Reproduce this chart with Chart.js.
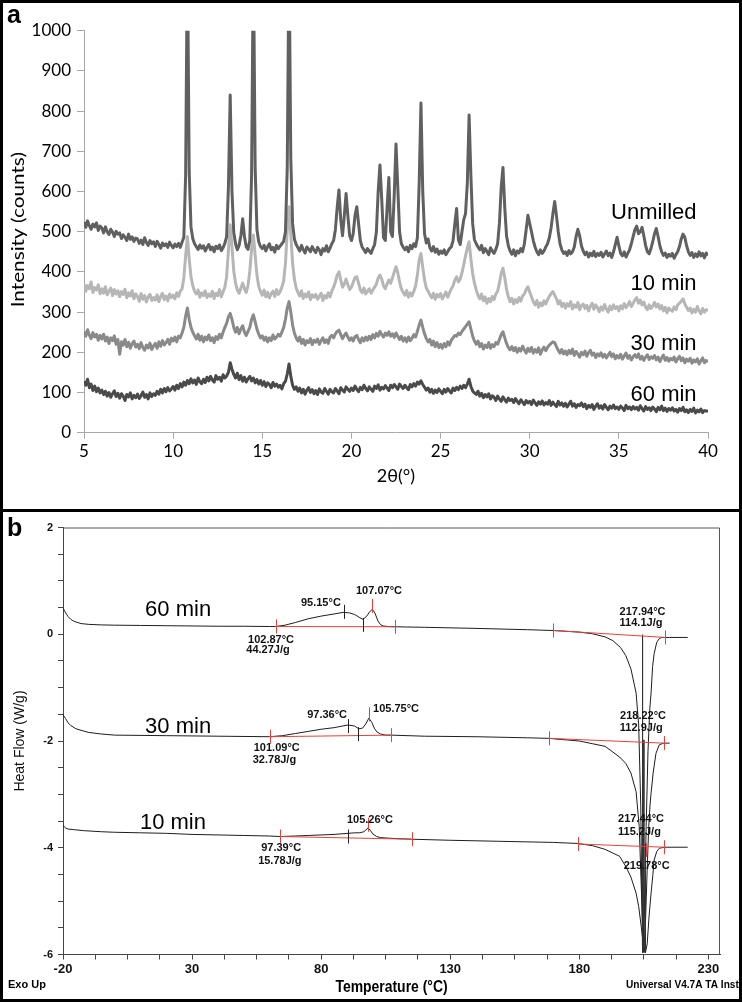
<!DOCTYPE html>
<html><head><meta charset="utf-8">
<script src="https://cdn.jsdelivr.net/npm/chart.js@4.4.1/dist/chart.umd.min.js"></script>
<style>
html,body{margin:0;padding:0;background:#fff;}
#wrap{position:relative;width:742px;height:1002px;overflow:hidden;background:#fff;}
canvas{position:absolute;left:0;}
#ca{top:0;}
#cb{top:510px;}
.frame{position:absolute;border:3px solid #000;box-sizing:border-box;pointer-events:none;}
</style></head><body>
<div id="wrap">
<canvas id="ca" width="742" height="510"></canvas>
<canvas id="cb" width="742" height="492"></canvas>
<div class="frame" style="left:0;top:0;width:742px;height:512px"></div>
<div class="frame" style="left:0;top:509px;width:742px;height:493px"></div>
</div>
<script>
// ---------------- Panel a : XRD (2θ from 5° in 0.1° steps) ----------------
const xrdStart = 5;
const xrdStep = 0.1;
const xrdAngleTicks = [5,10,15,20,25,30,35,40];
const xrdIntensityTicks = [0,100,200,300,400,500,600,700,800,900,1000];
const xrdSeriesNames = ['Unmilled','10 min','30 min','60 min'];
const xrdNameAnchor = [[39.36,546],[39.36,370],[39.36,220],[39.36,94]];

const unmilled = [
524,511,527,515,506,519,512,522,503,514,
509,497,512,500,493,506,499,488,501,494,
497,483,492,486,478,494,481,487,476,484,
482,471,479,468,485,473,466,478,470,475,
463,476,468,459,472,465,470,461,474,466,
460,469,463,471,461,474,486,640,1200,650,
512,483,470,463,456,467,459,465,452,461,
468,455,462,450,464,458,467,453,460,471,
488,610,840,600,498,470,455,466,490,532,
488,462,456,478,640,1200,660,505,475,463,
458,466,452,463,470,455,461,449,466,458,
464,470,476,500,660,1200,680,520,482,468,
460,452,466,455,447,462,457,450,463,454,
448,461,455,443,458,452,465,450,459,470,
478,505,560,604,530,490,540,595,540,490,
478,495,540,562,520,478,462,455,448,458,
452,446,458,468,500,600,666,580,485,478,
560,635,500,488,590,718,610,500,470,462,
455,462,450,466,458,470,463,485,620,820,
600,495,472,482,460,452,463,449,457,444,
452,446,455,443,450,458,462,478,520,558,
480,468,500,530,545,620,790,640,520,480,
470,462,455,466,448,458,451,443,460,452,
446,456,470,520,610,660,560,490,465,452,
444,455,440,452,447,458,450,470,505,541,
520,500,478,462,450,443,455,446,452,462,
470,485,510,545,575,540,500,470,455,446,
450,441,453,445,450,462,488,506,490,465,
452,443,449,437,447,440,451,438,446,441,
449,437,445,452,440,447,436,450,468,486,
465,446,440,450,437,446,455,470,488,505,
514,495,500,511,490,466,450,445,458,475,
495,508,488,465,450,441,447,436,444,439,
446,434,443,450,463,482,494,486,465,450,
441,448,436,445,438,450,440,446,435,447,
441];

const milled10 = [
370,352,366,358,375,349,361,355,368,346,
358,347,363,343,352,360,341,356,345,353,
338,351,344,357,336,348,340,353,333,345,
339,327,346,332,341,325,338,344,329,336,
330,343,326,339,347,331,340,328,345,336,
342,333,348,339,352,358,385,440,488,432,
388,366,352,345,355,337,348,341,353,336,
345,339,352,334,347,341,356,338,350,362,
388,452,517,462,402,372,355,347,360,372,
358,349,366,402,456,492,442,392,364,351,
342,355,338,349,335,346,352,339,356,344,
351,362,378,422,502,562,492,422,382,360,
349,340,353,334,345,338,350,331,343,337,
344,332,339,347,329,341,335,348,338,352,
362,375,392,400,380,362,370,382,368,356,
362,374,386,388,372,355,348,360,345,352,
358,347,355,362,370,385,392,382,365,358,
370,380,372,385,400,413,398,375,358,349,
342,354,337,348,340,352,365,392,430,446,
412,380,360,352,343,336,347,332,344,338,
346,333,341,350,337,348,358,365,380,388,
375,382,398,418,440,460,475,432,396,372,
355,342,333,345,328,338,322,334,326,339,
331,345,352,372,396,409,386,357,338,326,
334,320,331,324,336,327,340,345,356,363,
350,338,326,318,329,312,323,316,328,320,
331,339,346,351,342,333,320,328,314,322,
310,321,315,326,308,318,312,324,306,316,
320,309,317,303,314,322,307,318,311,301,
313,305,319,308,300,315,306,318,309,314,
303,316,308,321,311,318,326,314,322,330,
336,322,330,318,325,312,306,318,309,315,
324,313,320,308,316,303,312,298,310,305,
302,313,306,318,322,327,333,320,312,304,
310,298,307,300,314,303,296,309,300,306,
304];

const milled30 = [
252,240,256,243,234,249,238,245,230,242,
233,245,228,238,222,236,229,241,220,232,
195,226,218,232,214,225,210,221,228,213,
220,209,224,212,205,218,211,223,207,216,
222,210,226,215,229,218,224,232,220,235,
228,238,226,240,236,248,262,290,310,282,
262,250,241,233,245,230,240,226,238,231,
243,229,236,224,239,232,245,236,250,262,
272,288,297,282,262,250,262,246,258,266,
250,242,252,262,282,293,276,258,245,236,
241,230,238,226,236,229,243,233,238,245,
240,250,262,282,310,326,300,268,248,236,
228,238,222,232,218,229,224,234,219,230,
225,233,220,229,236,224,231,222,238,242,
236,246,252,255,244,234,242,248,238,230,
236,228,239,242,232,224,236,228,238,230,
240,232,244,236,247,240,252,244,238,248,
242,251,240,246,237,248,240,232,240,228,
236,226,238,229,235,244,238,252,268,280,
262,246,234,226,232,218,228,214,224,212,
220,210,222,214,226,218,230,236,242,240,
248,244,252,258,264,270,276,258,240,228,
220,228,214,222,208,218,212,224,210,219,
214,224,220,232,244,251,236,222,212,206,
214,204,212,200,210,203,215,206,198,210,
202,212,198,207,200,211,195,206,213,204,
212,218,222,226,224,214,205,198,207,196,
203,194,205,197,208,192,202,196,188,200,
194,203,190,199,205,193,198,187,196,191,
199,188,195,186,193,200,189,196,184,192,
186,195,183,191,198,185,192,181,189,194,
187,196,183,190,180,188,194,182,189,185,
192,181,188,177,186,193,180,187,178,185,
181,188,176,184,190,179,186,174,183,178,
185,173,181,176,184,171,179,186,174,180,
176];

const milled60 = [
128,118,133,112,121,105,116,102,111,99,
106,95,103,91,100,88,97,104,90,98,
86,97,91,80,95,89,99,84,93,87,
96,85,92,101,88,95,84,99,90,97,
93,103,96,108,99,110,102,112,104,109,
115,106,118,110,122,114,126,118,130,122,
134,124,131,120,136,127,122,133,125,138,
129,140,131,126,142,133,138,128,144,136,
141,150,174,158,145,136,148,132,142,128,
138,126,134,140,129,136,124,132,121,130,
118,127,115,124,120,112,125,116,121,113,
118,109,122,128,146,171,140,118,108,114,
103,111,99,108,96,106,112,100,107,97,
105,95,109,101,98,110,103,96,108,102,
99,110,104,97,112,106,101,114,108,103,
111,105,116,108,102,113,107,118,110,104,
114,108,103,116,110,119,106,113,109,117,
111,105,118,112,120,114,108,121,115,110,
118,112,107,120,114,122,116,126,121,129,
120,113,106,111,101,108,98,106,100,109,
103,97,108,101,110,104,99,111,105,113,
107,116,110,118,112,121,133,115,104,99,
95,103,91,98,87,95,89,97,84,92,
88,80,91,84,78,89,82,76,86,80,
83,75,85,78,72,82,76,70,80,74,
78,70,81,74,68,77,71,79,69,75,
71,80,68,76,70,65,78,69,74,66,
73,64,71,78,66,72,63,70,67,74,
65,71,60,68,63,70,58,66,72,61,
67,59,70,63,57,66,61,69,60,64,
58,66,62,55,68,60,64,57,65,59,
63,56,67,60,54,65,58,62,55,64,
59,52,63,57,66,55,61,53,60,56,
62,54,58,51,60,55,63,52,57,50,
58,53,61,49,56,52,59,50,55,54,
53];

// ---------------- Panel b : DSC ----------------
const dscTempTicks = [-20,-7.5,5,17.5,30,42.5,55,67.5,80,92.5,105,117.5,130,142.5,155,167.5,180,192.5,205,217.5,230];
const dscTempLabels = [-20,30,80,130,180,230];
const dscHFTicks = [2,1.5,1,0.5,0,-0.5,-1,-1.5,-2,-2.5,-3,-3.5,-4,-4.5,-5,-5.5,-6];
const dscHFLabels = [2,0,-2,-4,-6];

const dsc60T = [-20,-19.5,-19,-18,-17,-16,-15,-13,-10,-5,0,10,20,30,40,50,60,62.4,66,70,75,80,85,88.5,91,93,95,96.2,97.5,98.8,99.8,100.8,102,103,104,106,108.5,120,140,160,170,180,185,190,193,196,198,200,202,203,203.8,204.5,205.2,205.9,206.6,207.3,207.8,208.4,209,210,211,212,215,222];
const dsc60HF = [0.49,0.45,0.40,0.33,0.28,0.25,0.23,0.20,0.185,0.175,0.17,0.165,0.16,0.155,0.15,0.15,0.145,0.145,0.17,0.22,0.29,0.34,0.38,0.41,0.40,0.37,0.31,0.28,0.33,0.42,0.47,0.40,0.25,0.18,0.155,0.145,0.14,0.13,0.11,0.085,0.07,0.04,0.01,-0.05,-0.12,-0.25,-0.4,-0.65,-1.1,-1.7,-3.2,-5.97,-5.2,-3.6,-2.2,-1.4,-1.1,-0.6,-0.36,-0.15,-0.08,-0.06,-0.06,-0.06];

const dsc30T = [-20,-19,-18,-17,-15,-13,-10,-5,0,20,40,60.1,65,70,75,80,85,90.4,93,94.5,96,97.3,98.5,99.6,100.6,101.6,103,105,107,120,140,160,168.2,175,180,185,190,195.6,198,200,202,203.2,204.2,205,205.7,206.3,206.9,207.4,207.8,208.6,209.7,211,212.7,215];
const dsc30HF = [-1.51,-1.58,-1.66,-1.71,-1.77,-1.80,-1.84,-1.87,-1.89,-1.90,-1.91,-1.92,-1.90,-1.86,-1.82,-1.78,-1.75,-1.70,-1.72,-1.77,-1.76,-1.68,-1.57,-1.65,-1.76,-1.83,-1.87,-1.89,-1.89,-1.91,-1.92,-1.94,-1.95,-1.98,-2.0,-2.05,-2.1,-2.3,-2.42,-2.6,-2.95,-3.6,-5.0,-5.96,-5.3,-4.4,-3.6,-3.2,-2.98,-2.6,-2.23,-2.07,-2.04,-2.04];

const dsc10T = [-20,-19.5,-19,-18,-16,-12,-5,0,10,20,30,40,50,60,64,70,75,80,85,90.4,93,95,96.5,97.3,98.1,99,100,101.5,103,106,110,115,130,150,170,179.4,185,190,195.6,198,200,202,203,204,204.9,205.6,206.3,207,207.8,208.5,209,210,211,213,222];
const dsc10HF = [-3.57,-3.61,-3.63,-3.65,-3.66,-3.68,-3.70,-3.71,-3.72,-3.73,-3.75,-3.76,-3.77,-3.78,-3.79,-3.78,-3.77,-3.76,-3.75,-3.73,-3.72,-3.72,-3.70,-3.67,-3.63,-3.67,-3.74,-3.79,-3.81,-3.82,-3.83,-3.84,-3.86,-3.88,-3.9,-3.92,-3.96,-4.03,-4.16,-4.35,-4.55,-4.85,-5.1,-5.48,-5.85,-5.97,-5.8,-5.3,-4.85,-4.5,-4.23,-4.07,-4.01,-3.99,-3.99];

// integration baselines (red) : [startT, startHF, endT, endHF]
const dscBaseLines = [
  [62.4,0.145,108.5,0.14],[170,0.07,213.3,-0.06],
  [60.1,-1.92,107,-1.89],[168.2,-1.95,212.7,-2.04],
  [64,-3.79,115,-3.84],[179.4,-3.93,213,-3.99]
];
// peak marker verticals : [T, fromHF, toHF]
const dscPeakLines = [[204.5,-0.01,-5.97],[205,-1.98,-5.96],[205.6,-3.93,-5.97]];
const dscRedTicks = [[62.4,0.145],[108.5,0.14],[99.8,0.53],[170,0.07],[213.3,-0.06],
  [60.1,-1.92],[107,-1.89],[98.5,-1.50],[168.2,-1.95],[212.7,-2.04],
  [64,-3.79],[115,-3.84],[98.1,-3.57],[179.4,-3.93],[213,-3.99],[206,-4.04]];
const dscBlackTicks = [[88.9,0.42],[96.1,0.175],[90.4,-1.72],[94.3,-1.87],[90.4,-3.79]];
const dscNotes = [
  ['95.15°C',79.9,0.58],['107.07°C',102.4,0.82],['102.87°C',60.6,-0.11],['44.27J/g',59.4,-0.29],
  ['217.94°C',204.5,0.42],['114.1J/g',203.9,0.22],
  ['97.36°C',82.3,-1.51],['105.75°C',109,-1.40],['101.09°C',62.8,-2.13],['32.78J/g',61.9,-2.35],
  ['218.22°C',204.7,-1.54],['112.9J/g',204,-1.76],
  ['105.26°C',98.9,-3.48],['97.39°C',64.5,-4.0],['15.78J/g',64,-4.24],
  ['217.44°C',203.9,-3.46],['115.2J/g',203.3,-3.70],['219.78°C',206.1,-4.35]
];
const dscSeriesNames = ['60 min','30 min','10 min'];
const dscNameAnchor = [[11.8,0.46],[11.8,-1.73],[9.8,-3.54]];

// ---------------- build ----------------
function xrdPoints(arr){ return arr.map((v,i)=>({x: Math.round((xrdStart + i*xrdStep)*10)/10, y: v})); }
function pairPoints(ts, vs){ return ts.map((t,i)=>({x:t, y:vs[i]})); }

const LS = '"Liberation Sans", Arial, sans-serif';

const annotA = {
  id:'annotA',
  afterDatasetsDraw(chart){
    const {ctx, chartArea:ca, scales:{x,y}} = chart;
    ctx.save();
    ctx.fillStyle = '#000';
    ctx.font = '22px ' + LS;
    ctx.textAlign = 'right'; ctx.textBaseline = 'middle';
    xrdSeriesNames.forEach((n,i)=>ctx.fillText(n, x.getPixelForValue(xrdNameAnchor[i][0]), y.getPixelForValue(xrdNameAnchor[i][1])));
    // y-axis title (wide geometric look)
    ctx.save();
    ctx.translate(19, (ca.top+ca.bottom)/2 - 2);
    ctx.rotate(-Math.PI/2);
    ctx.scale(1.22,1);
    ctx.font = '17px Lato, sans-serif'; ctx.textAlign = 'center';
    ctx.fillText('Intensity (counts)', 0, 0);
    ctx.restore();
    ctx.font = 'bold 25px ' + LS;
    ctx.textAlign = 'left';
    ctx.fillText('a', 7, 16);
    ctx.restore();
  }
};

const xrdColors = ['#606060','#b6b6b6','#8a8a8a','#4a4a4a'];
const xrdSeries = [unmilled, milled10, milled30, milled60];

new Chart(document.getElementById('ca'), {
  type:'line',
  data:{ datasets: xrdSeries.map((s,i)=>({
    label: xrdSeriesNames[i], data: xrdPoints(s), borderColor: xrdColors[i],
    borderWidth: 3, pointRadius: 0, tension: 0, fill: false, order: i,
    borderJoinStyle: 'round'
  }))},
  options:{
    responsive:false, animation:false, parsing:false, normalized:true,
    layout:{padding:{top:30.7, right:34, left:0, bottom:0}},
    plugins:{legend:{display:false}, tooltip:{enabled:false}},
    scales:{
      x:{type:'linear', min:5, max:40,
        afterBuildTicks:s=>{s.ticks = xrdAngleTicks.map(v=>({value:v}));},
        ticks:{color:'#000', font:{family:'Lato', size:17}, padding:3, maxRotation:0, autoSkip:false, callback:v=>String(v)},
        grid:{drawOnChartArea:false, color:'#a8a8a8', tickLength:6},
        border:{color:'#a8a8a8'},
        title:{display:true, text:'2θ(°)', color:'#000', font:{family:'Lato', size:18}, padding:{top:0,bottom:23}},
        afterFit:s=>{s.height = 77.3;}
      },
      y:{type:'linear', min:0, max:1000,
        afterBuildTicks:s=>{s.ticks = xrdIntensityTicks.map(v=>({value:v}));},
        ticks:{color:'#000', font:{family:'Lato', size:17}, padding:6, autoSkip:false, callback:v=>String(v)},
        grid:{drawOnChartArea:false, color:'#a8a8a8', tickLength:7},
        border:{color:'#a8a8a8'},
        afterFit:s=>{s.width = 84;}
      }
    }
  },
  plugins:[annotA]
});

const annotB = {
  id:'annotB',
  afterDatasetsDraw(chart){
    const {ctx, chartArea:ca, scales:{x,y}} = chart;
    ctx.save();
    // plot box (top and right)
    ctx.strokeStyle = '#555'; ctx.lineWidth = 1;
    ctx.beginPath();
    ctx.moveTo(ca.left, ca.top+0.5); ctx.lineTo(ca.right-0.5, ca.top+0.5); ctx.lineTo(ca.right-0.5, ca.bottom);
    ctx.stroke();
    // ticks
    const tick = (arr,color)=>{
      ctx.strokeStyle = color; ctx.lineWidth = 1;
      arr.forEach(([t,v])=>{
        const px = Math.round(x.getPixelForValue(t))+0.5, py = y.getPixelForValue(v);
        ctx.beginPath(); ctx.moveTo(px, py-7); ctx.lineTo(px, py+7); ctx.stroke();
      });
    };
    tick(dscRedTicks,'#e0443c');
    tick(dscBlackTicks,'#222');
    // notes
    ctx.fillStyle = '#111';
    ctx.font = 'bold 11px ' + LS;
    ctx.textAlign = 'center'; ctx.textBaseline = 'middle';
    dscNotes.forEach(([s,t,v])=>ctx.fillText(s, x.getPixelForValue(t), y.getPixelForValue(v)));
    // series names
    ctx.fillStyle = '#000';
    ctx.font = '22px ' + LS;
    ctx.textAlign = 'left';
    dscSeriesNames.forEach((n,i)=>ctx.fillText(n, x.getPixelForValue(dscNameAnchor[i][0]), y.getPixelForValue(dscNameAnchor[i][1])));
    // panel letter and footer texts
    ctx.font = 'bold 25px ' + LS;
    ctx.fillText('b', 7, 19);
    ctx.font = 'bold 11px ' + LS;
    ctx.fillText('Exo Up', 8, 475);
    ctx.save(); ctx.translate(626, 475); ctx.scale(0.92,1);
    ctx.fillText('Universal V4.7A TA Instruments', 0, 0); ctx.restore();
    ctx.save(); ctx.translate((ca.left+ca.right)/2, 477); ctx.scale(0.82,1);
    ctx.font = 'bold 17px ' + LS; ctx.textAlign = 'center';
    ctx.fillText('Temperature (°C)', 0, 0); ctx.restore();
    ctx.restore();
  }
};

const dscCurves = [pairPoints(dsc60T,dsc60HF), pairPoints(dsc30T,dsc30HF), pairPoints(dsc10T,dsc10HF)];
const dscSets = [];
dscCurves.forEach((d,i)=>dscSets.push({label:dscSeriesNames[i], data:d, borderColor:'#1e1e1e', borderWidth:1, pointRadius:0, tension:0, order:2}));
dscBaseLines.forEach(b=>dscSets.push({data:[{x:b[0],y:b[1]},{x:b[2],y:b[3]}], borderColor:'#e0443c', borderWidth:1, pointRadius:0, order:0}));
dscPeakLines.forEach(p=>dscSets.push({data:[{x:p[0],y:p[1]},{x:p[0],y:p[2]}], borderColor:'#333', borderWidth:1, pointRadius:0, order:1}));

new Chart(document.getElementById('cb'), {
  type:'line',
  data:{datasets:dscSets},
  options:{
    responsive:false, animation:false, parsing:false,
    layout:{padding:{top:17.5, right:22, left:0, bottom:0}},
    plugins:{legend:{display:false}, tooltip:{enabled:false}},
    scales:{
      x:{type:'linear', min:-20, max:234.5,
        afterBuildTicks:s=>{s.ticks = dscTempTicks.map(v=>({value:v}));},
        ticks:{color:'#111', font:{family:'Liberation Sans', size:13, weight:'bold'}, padding:2, maxRotation:0, autoSkip:false,
          callback:v=>dscTempLabels.includes(v)?String(v):''},
        grid:{drawOnChartArea:false, color:'#444', tickLength:5},
        border:{color:'#444'},
        afterFit:s=>{s.height = 47.5;}
      },
      y:{type:'linear', min:-6, max:2,
        afterBuildTicks:s=>{s.ticks = dscHFTicks.map(v=>({value:v}));},
        ticks:{color:'#111', font:{family:'Liberation Sans', size:11, weight:'bold'}, padding:5, autoSkip:false,
          callback:v=>dscHFLabels.includes(v)?String(v):''},
        grid:{drawOnChartArea:false, color:'#444', tickLength:5},
        border:{color:'#444'},
        title:{display:true, text:'Heat Flow (W/g)', color:'#111', font:{family:'Liberation Sans', size:14}, padding:{top:11.6,bottom:0}},
        afterFit:s=>{s.width = 63;}
      }
    }
  },
  plugins:[annotB]
});
</script>
</body></html>
